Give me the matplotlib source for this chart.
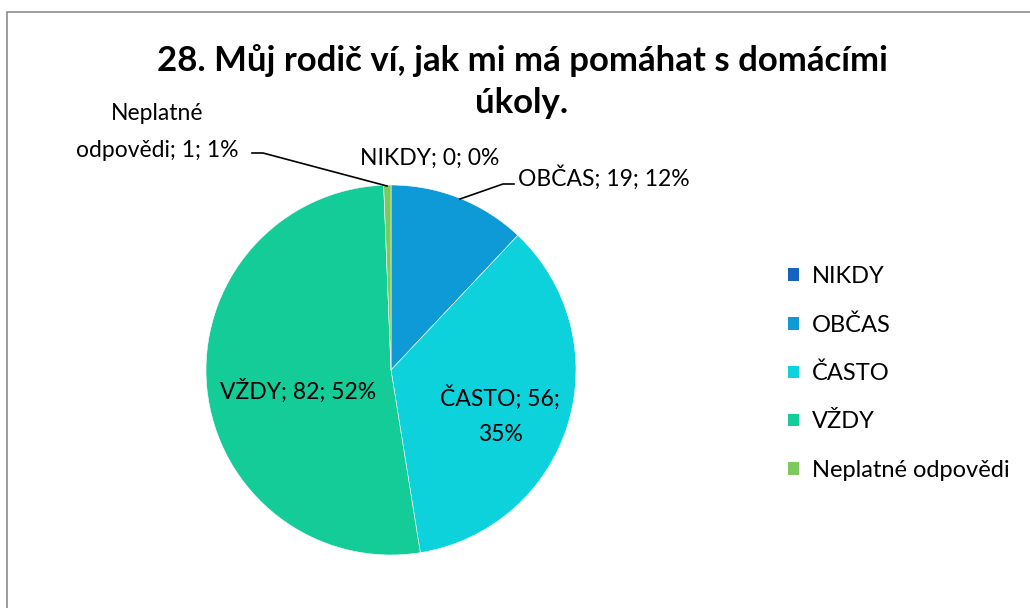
import matplotlib
matplotlib.use("Agg")
import matplotlib.pyplot as plt
from matplotlib.patches import Rectangle

categories = ["NIKDY", "OBČAS", "ČASTO", "VŽDY", "Neplatné odpovědi"]
values = [0, 19, 56, 82, 1]
percents = ["0%", "12%", "35%", "52%", "1%"]
colors = ["#1565C0", "#0E9AD7", "#0DD1DB", "#14CC98", "#7DC95E"]
title_lines = ["28. Můj rodič ví, jak mi má pomáhat s domácími", "úkoly."]

plt.rcParams['font.family'] = ['Lato', 'DejaVu Sans']

W, H = 1030, 608
fig = plt.figure(figsize=(W / 100, H / 100), dpi=100)
ax = fig.add_axes([0, 0, 1, 1])

def Y(py):
    return H - py

cx, cy, r = 391, 370, 185
wedges, _ = ax.pie(values, colors=colors, startangle=90, counterclock=False,
                   center=(cx, Y(cy)), radius=r, frame=True,
                   wedgeprops=dict(edgecolor='white', linewidth=0.4))
ax.set_xlim(0, W)
ax.set_ylim(0, H)
ax.set_aspect('equal')
ax.axis('off')

# chart border
ax.add_patch(Rectangle((7, Y(1000)), 1100, 1000 - 12, fill=False, edgecolor='#8C8C8C', linewidth=1.2))

fs = 16.5
lab = [f"{c}; {v}; {p}" for c, v, p in zip(categories, values, percents)]

# NIKDY
ax.text(430, Y(158), lab[0], ha='center', va='center', fontsize=fs)
# OBČAS
ax.text(518, Y(178), lab[1], ha='left', va='center', fontsize=fs)
ax.plot([460, 503, 514], [Y(199), Y(184), Y(184)], color='black', lw=1.2)
# ČASTO
ax.text(500, Y(415), f"{categories[2]}; {values[2]};\n{percents[2]}", ha='center', va='center',
        fontsize=fs, linespacing=1.8)
# VŽDY
ax.text(298, Y(391), lab[3], ha='center', va='center', fontsize=fs)
# Neplatné
ax.text(157, Y(132), f"Neplatné\nodpovědi; {values[4]}; {percents[4]}", ha='center', va='center',
        fontsize=fs, linespacing=1.9)
ax.plot([252, 263, 387], [Y(153), Y(153), Y(186)], color='black', lw=1.2)

# title
ax.text(522, Y(61), title_lines[0], ha='center', va='center', fontsize=25, fontweight='bold')
ax.text(522, Y(103), title_lines[1], ha='center', va='center', fontsize=25, fontweight='bold')

leg = ax.legend(wedges, categories, loc='upper left', bbox_to_anchor=(788 / W, 1 - 266 / H),
                frameon=False, fontsize=17, handlelength=0.45, handleheight=0.45,
                handletextpad=0.55, labelspacing=1.15, borderaxespad=0, borderpad=0)
for h in leg.legend_handles:
    h.set_edgecolor('none')

fig.savefig("out.png", dpi=100)
